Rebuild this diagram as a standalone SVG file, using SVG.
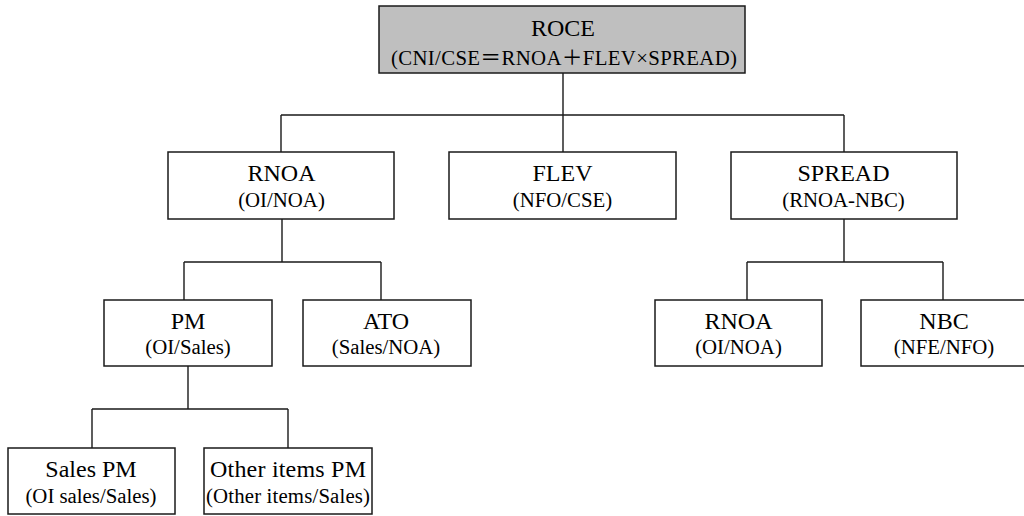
<svg xmlns="http://www.w3.org/2000/svg" width="1024" height="516" viewBox="0 0 1024 516">
<style>
.box{fill:#ffffff;stroke:#1a1a1a;stroke-width:1.5}
.root{fill:#bfbfbf;stroke:#1a1a1a;stroke-width:1.5}
.t{font-family:"Liberation Serif","Times New Roman",serif;font-size:24px;fill:#000;text-anchor:middle}
.s{font-family:"Liberation Serif","Times New Roman","Noto Sans CJK SC",serif;font-size:20.8px;fill:#000;text-anchor:middle}
.c{fill:none;stroke:#1a1a1a;stroke-width:1.4}
</style>
<rect width="1024" height="516" fill="#ffffff"/>
<g id="connectors">
<path class="c" d="M563,73 V115 M281,115 H844 M281,115 V152 M563,115 V152 M844,115 V152"/>
<path class="c" d="M282,219 V262 M184,262 H381 M184,262 V300 M381,262 V300"/>
<path class="c" d="M844,219 V262 M747,262 H943 M747,262 V300 M943,262 V300"/>
<path class="c" d="M188,366 V409 M92,409 H288 M92,409 V448 M288,409 V448"/>
</g>
<g id="roce">
<rect class="root" x="379" y="6" width="366" height="67"/>
<text class="t" x="563" y="36">ROCE</text>
<text class="s" x="564" y="65" textLength="346" lengthAdjust="spacing">(CNI/CSE＝RNOA＋FLEV×SPREAD)</text>
</g>
<g id="rnoa">
<rect class="box" x="168" y="152" width="226" height="67"/>
<text class="t" x="281.5" y="181">RNOA</text>
<text class="s" x="281.5" y="207">(OI/NOA)</text>
</g>
<g id="flev">
<rect class="box" x="449" y="152" width="227" height="67"/>
<text class="t" x="562.5" y="181">FLEV</text>
<text class="s" x="562.5" y="207">(NFO/CSE)</text>
</g>
<g id="spread">
<rect class="box" x="731" y="152" width="226" height="67"/>
<text class="t" x="843.5" y="181">SPREAD</text>
<text class="s" x="843.5" y="207">(RNOA-NBC)</text>
</g>
<g id="pm">
<rect class="box" x="104" y="300" width="168" height="66"/>
<text class="t" x="188" y="329">PM</text>
<text class="s" x="188" y="354">(OI/Sales)</text>
</g>
<g id="ato">
<rect class="box" x="303" y="300" width="168" height="66"/>
<text class="t" x="386" y="329">ATO</text>
<text class="s" x="386" y="354">(Sales/NOA)</text>
</g>
<g id="rnoa2">
<rect class="box" x="655" y="300" width="167" height="66"/>
<text class="t" x="738.5" y="329">RNOA</text>
<text class="s" x="738.5" y="354">(OI/NOA)</text>
</g>
<g id="nbc">
<rect class="box" x="861" y="300" width="167" height="66"/>
<text class="t" x="944" y="329">NBC</text>
<text class="s" x="944" y="354">(NFE/NFO)</text>
</g>
<g id="salespm">
<rect class="box" x="8" y="448" width="167" height="66"/>
<text class="t" x="91" y="477">Sales PM</text>
<text class="s" x="91" y="503">(OI sales/Sales)</text>
</g>
<g id="otherpm">
<rect class="box" x="204" y="448" width="168" height="66"/>
<text class="t" x="288" y="477" textLength="156" lengthAdjust="spacing">Other items PM</text>
<text class="s" x="288" y="503" textLength="164" lengthAdjust="spacing">(Other items/Sales)</text>
</g>
</svg>
